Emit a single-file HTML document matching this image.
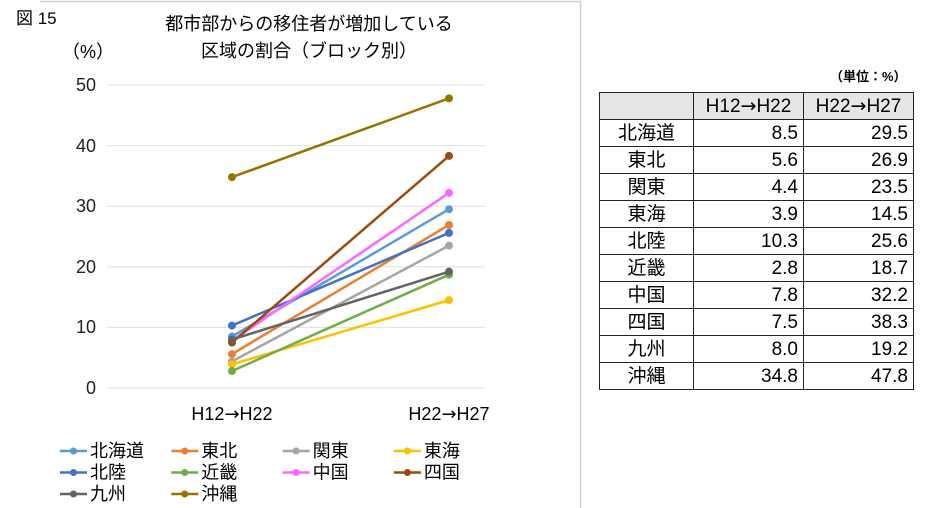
<!DOCTYPE html>
<html><head><meta charset="utf-8"><style>
body{margin:0;width:952px;height:508px;background:#fff;overflow:hidden;font-family:"Liberation Sans","Noto Sans CJK JP",sans-serif;}
svg text{font-family:"Liberation Sans","Noto Sans CJK JP",sans-serif;}
table{position:absolute;left:599px;top:92px;border-collapse:collapse;font-family:"Liberation Sans","Noto Sans CJK JP",sans-serif;font-size:19px;}
td{border:1.5px solid #222;height:26px;padding:0 5px;line-height:25px;}
td.l{text-align:center;width:83px;}
td.n{text-align:right;width:99px;}
tr.h td{background:#e6e6e6;text-align:center;}
.ar{font-family:"DejaVu Sans",sans-serif;}
</style></head><body>
<svg width="952" height="508" style="position:absolute;left:0;top:0">
<polyline points="40,1.5 580.5,1.5 580.5,508" fill="none" stroke="#d0d0d0" stroke-width="1.5"/>
<text x="16" y="24" font-size="17">図 15</text>
<text x="309" y="30" font-size="18" text-anchor="middle">都市部からの移住者が増加している</text>
<text x="309" y="57" font-size="18" text-anchor="middle">区域の割合（ブロック別）</text>
<text x="62" y="58" font-size="18">（%）</text>
<g stroke="#e0e0e0" stroke-width="1">
<line x1="107" x2="485" y1="85" y2="85"/><line x1="107" x2="485" y1="145.6" y2="145.6"/>
<line x1="107" x2="485" y1="206.2" y2="206.2"/><line x1="107" x2="485" y1="266.8" y2="266.8"/>
<line x1="107" x2="485" y1="327.4" y2="327.4"/><line x1="107" x2="485" y1="388" y2="388"/>
</g>
<g font-size="18" text-anchor="end" fill="#222">
<text x="96" y="91">50</text><text x="96" y="152">40</text><text x="96" y="212">30</text>
<text x="96" y="273">20</text><text x="96" y="333">10</text><text x="96" y="394">0</text>
</g>
<g font-size="18" text-anchor="middle"><text x="232" y="420">H12<tspan font-family="DejaVu Sans">→</tspan>H22</text><text x="449" y="420">H22<tspan font-family="DejaVu Sans">→</tspan>H27</text></g>
<g stroke-width="2.5" id="s"></g>
<g id="lg" font-size="18"></g>
</svg>
<table>
<tr class="h"><td class="l"></td><td>H12<span class="ar">→</span>H22</td><td>H22<span class="ar">→</span>H27</td></tr>
<tr><td class="l">北海道</td><td class="n">8.5</td><td class="n">29.5</td></tr>
<tr><td class="l">東北</td><td class="n">5.6</td><td class="n">26.9</td></tr>
<tr><td class="l">関東</td><td class="n">4.4</td><td class="n">23.5</td></tr>
<tr><td class="l">東海</td><td class="n">3.9</td><td class="n">14.5</td></tr>
<tr><td class="l">北陸</td><td class="n">10.3</td><td class="n">25.6</td></tr>
<tr><td class="l">近畿</td><td class="n">2.8</td><td class="n">18.7</td></tr>
<tr><td class="l">中国</td><td class="n">7.8</td><td class="n">32.2</td></tr>
<tr><td class="l">四国</td><td class="n">7.5</td><td class="n">38.3</td></tr>
<tr><td class="l">九州</td><td class="n">8.0</td><td class="n">19.2</td></tr>
<tr><td class="l">沖縄</td><td class="n">34.8</td><td class="n">47.8</td></tr>
</table>
<div style="position:absolute;left:830px;top:66px;font-size:13px;font-weight:bold;font-family:'Liberation Sans','Noto Sans CJK JP',sans-serif">（単位：%）</div>
<script>
var d=[["北海道","#5B9BD5",8.5,29.5],["東北","#ED7D31",5.6,26.9],["関東","#A5A5A5",4.4,23.5],["東海","#FFC000",3.9,14.5],["北陸","#4472C4",10.3,25.6],["近畿","#70AD47",2.8,18.7],["中国","#FF66FF",7.8,32.2],["四国","#9E480E",7.5,38.3],["九州","#636363",8.0,19.2],["沖縄","#997300",34.8,47.8]];
var ns="http://www.w3.org/2000/svg",s=document.getElementById("s"),lg=document.getElementById("lg");
function y(v){return 388-v*6.06;}
function el(p,t,a){var e=document.createElementNS(ns,t);for(var k in a)e.setAttribute(k,a[k]);p.appendChild(e);return e;}
d.forEach(function(r,i){
el(s,"line",{x1:232,y1:y(r[2]),x2:449,y2:y(r[3]),stroke:r[1]});
el(s,"circle",{cx:232,cy:y(r[2]),r:4,fill:r[1]});
el(s,"circle",{cx:449,cy:y(r[3]),r:4,fill:r[1]});
var cx=60+(i%4)*111.3,cy=451+Math.floor(i/4)*21.5;
el(lg,"line",{x1:cx,y1:cy,x2:cx+27,y2:cy,stroke:r[1],"stroke-width":2.5});
el(lg,"circle",{cx:cx+13.5,cy:cy,r:3.5,fill:r[1]});
var t=el(lg,"text",{x:cx+30,y:cy+6});t.textContent=r[0];
});
</script>
</body></html>
